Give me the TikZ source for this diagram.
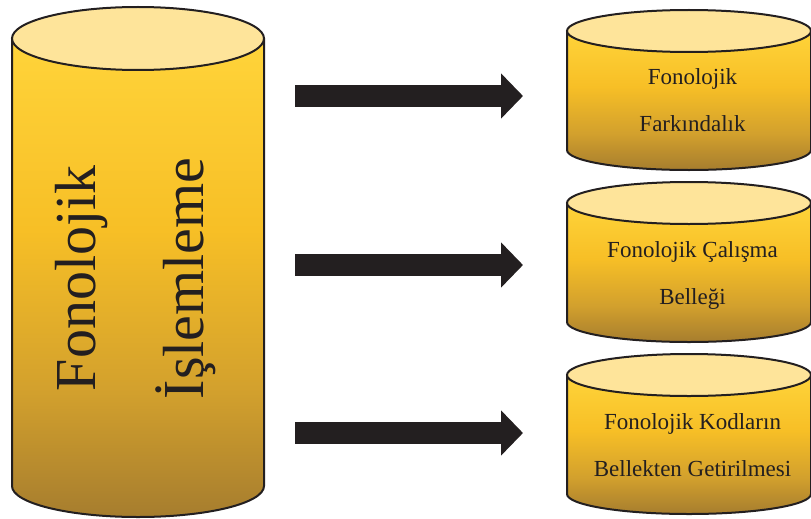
\documentclass[tikz,border=0pt]{standalone}
\usepackage{fontspec}
\setmainfont{Liberation Serif}
\usetikzlibrary{arrows.meta, positioning, calc}

\definecolor{inkdark}{HTML}{231F20}
\definecolor{drumlid}{HTML}{FEE49A}
\definecolor{drumhigh}{HTML}{FFD43A}
\definecolor{drumgold}{HTML}{F7BF26}
\definecolor{drumochre}{HTML}{D2A02D}
\definecolor{drumlow}{HTML}{A67D2E}
\pgfdeclareverticalshading{drumshade}{100bp}{color(0bp)=(drumlow); color(25bp)=(drumlow); color(38bp)=(drumochre); color(55bp)=(drumgold); color(75bp)=(drumhigh); color(100bp)=(drumhigh)}

\begin{document}
\begin{tikzpicture}[
    x=1pt, y=1pt,
    drumbody/.style={
        rectangle, inner sep=0pt, outer sep=0pt
    },
    rim/.style={
        draw=inkdark, line width=2pt
    },
    lid/.style={
        rim, fill=drumlid
    },
    caption/.style={
        text=inkdark, align=center, font=\fontsize{23}{47}\selectfont
    },
    bigcaption/.style={
        text=inkdark, align=center, rotate=90, font=\fontsize{58}{108}\selectfont
    },
    bigarrow/.style={
        draw=inkdark, line width=22pt, -{Triangle[length=22pt, width=44pt]},
        shorten <=31pt, shorten >=44pt
    }
]
\useasboundingbox (0,0) rectangle (811,-519);

% ── Left drum: Fonolojik İşlemleme ──
\node[drumbody, minimum width=252pt, minimum height=447.5pt] (proc) at (138,-262.25) {};
\shade[shading=drumshade] (proc.north west) -- (proc.south west)
    arc[start angle=180, end angle=360, x radius=126, y radius=31] -- (proc.north east) -- cycle;
\draw[rim] (proc.north west) -- (proc.south west)
    arc[start angle=180, end angle=360, x radius=126, y radius=31] -- (proc.north east);
\draw[lid] (proc.north) ellipse[x radius=126, y radius=31.5];
\node[bigcaption] (proctxt) at ([xshift=-2.5pt, yshift=-16pt]proc.center) {Fonolojik\\İşlemleme};

% ── Right drums ──
\foreach \nm/\yt/\yb in {aware/31/150, memory/203/322, retrieval/375/494} {
    \node[drumbody, minimum width=244pt, minimum height={\yb-\yt}] (\nm) at (689,{-(\yt+\yb)/2}) {};
    \shade[shading=drumshade] (\nm.north west) -- (\nm.south west)
        arc[start angle=180, end angle=360, x radius=122, y radius=20] -- (\nm.north east) -- cycle;
    \draw[rim] (\nm.north west) -- (\nm.south west)
        arc[start angle=180, end angle=360, x radius=122, y radius=20] -- (\nm.north east);
    \draw[lid] (\nm.north) ellipse[x radius=122, y radius=21];
}

\node[caption] (awaretxt) at ([xshift=3.5pt, yshift=-10pt]aware.center) {Fonolojik\\Farkındalık};
\node[caption] (memorytxt) at ([xshift=3.5pt, yshift=-12.7pt]memory.center) {Fonolojik Çalışma\\Belleği};
\node[caption] (retrievaltxt) at ([xshift=3.5pt, yshift=-11pt]retrieval.center) {Fonolojik Kodların\\Bellekten Getirilmesi};

% ── Arrows ──
\coordinate (awarein) at ([yshift=-5.5pt]aware.west);
\coordinate (memoryin) at ([yshift=-2.5pt]memory.west);
\coordinate (retrievalin) at ([yshift=1.5pt]retrieval.west);
\draw[bigarrow] (proc.east |- awarein) -- (awarein);
\draw[bigarrow] (proc.east |- memoryin) -- (memoryin);
\draw[bigarrow] (proc.east |- retrievalin) -- (retrievalin);

\end{tikzpicture}
\end{document}
